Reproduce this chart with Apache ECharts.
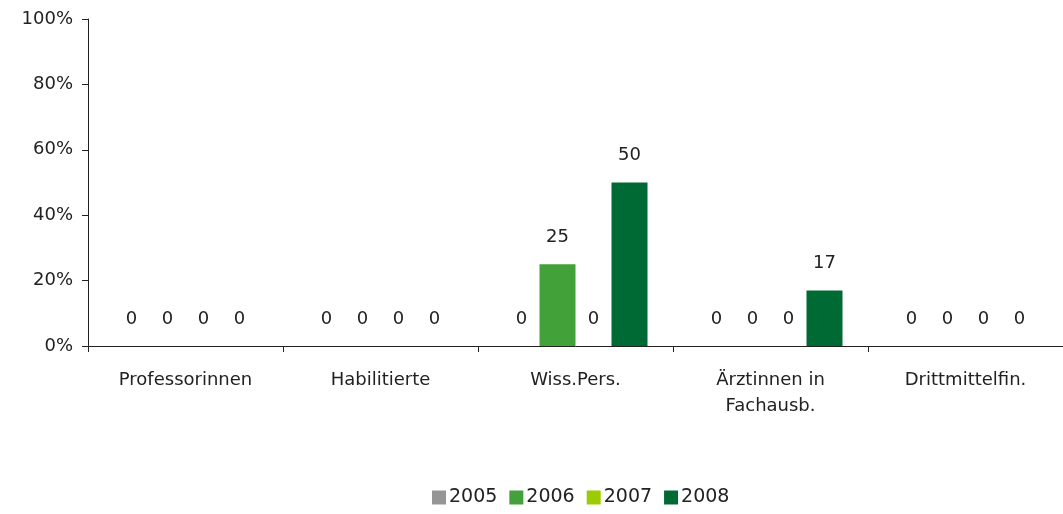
<!DOCTYPE html>
<html><head><meta charset="utf-8">
<script src="https://cdn.jsdelivr.net/npm/echarts@6/dist/echarts.min.js"></script>
<style>html,body{margin:0;padding:0;background:#fff}#c{width:1063px;height:514px}</style>
</head><body><div id="c"></div>
<script>
const categories = ['Professorinnen', 'Habilitierte', 'Wiss.Pers.', 'Ärztinnen in\nFachausb.', 'Drittmittelfin.'];
const years = ['2005', '2006', '2007', '2008'];
const v2005 = [0, 0, 0, 0, 0];
const v2006 = [0, 0, 25, 0, 0];
const v2007 = [0, 0, 0, 0, 0];
const v2008 = [0, 0, 50, 17, 0];
const colors = ['#969696', '#43a13a', '#9bcb00', '#006a35'];
const yTicks = [0, 20, 40, 60, 80, 100];

const font = 'DejaVu Sans';
const allVals = [v2005, v2006, v2007, v2008];
const chart = echarts.init(document.getElementById('c'));
chart.setOption({
  animation: false,
  textStyle: { fontFamily: font },
  grid: { left: 88, top: 19, right: 0, height: 327, containLabel: false },
  legend: {
    bottom: 2, left: 427, itemWidth: 14, itemHeight: 14, itemGap: 12,
    icon: 'rect',
    textStyle: { fontFamily: font, fontSize: 19, color: '#222', padding: [0, 0, 0, -2] },
    data: years
  },
  xAxis: {
    type: 'category', data: categories,
    axisLine: { lineStyle: { color: '#222', width: 1 } },
    axisTick: { show: true, length: 6, lineStyle: { color: '#222' } },
    axisLabel: { fontFamily: font, fontSize: 18, color: '#222', margin: 21, lineHeight: 26 }
  },
  yAxis: {
    type: 'value', min: 0, max: 100, interval: 20,
    splitLine: { show: false },
    axisLine: { show: true, lineStyle: { color: '#222', width: 1 } },
    axisTick: { show: true, length: 6, lineStyle: { color: '#222' } },
    axisLabel: { fontFamily: font, fontSize: 18, color: '#222', margin: 15,
      formatter: v => yTicks.includes(v) ? v + '%' : '' }
  },
  series: years.map((y, i) => ({
    name: y, type: 'bar', data: allVals[i],
    barWidth: 36, barGap: '0%',
    itemStyle: { color: colors[i] },
    label: { show: true, position: 'top', distance: 18, fontFamily: font, fontSize: 18, color: '#222' }
  }))
});
</script></body></html>
